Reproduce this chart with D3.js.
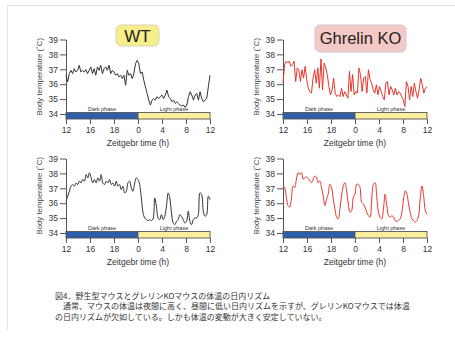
<!DOCTYPE html>
<html><head><meta charset="utf-8">
<script src="https://cdn.jsdelivr.net/npm/d3@7"></script>
<style>
body{margin:0;background:#fff;}
svg{display:block;font-family:"Liberation Sans",Arial,sans-serif;}
</style></head><body>
<svg id="c" width="455" height="340"></svg>
<script>
// ---- data ----
const hourTicks = [0, 4, 8, 12, 16, 20, 24];
const hourTickLabels = ["12", "16", "18", "0", "4", "8", "12"];
const tempTicks = [34, 35, 36, 37, 38, 39];
const phaseLabels = ["Dark phase", "Light phase"];
const groupLabels = ["WT", "Ghrelin KO"];
const xTitle = "Zeitgebr time (h)";
const yTitle = "Body temperature (˚C)";
const captionLines = [
  "図4．野生型マウスとグレリンKOマウスの体温の日内リズム",
  "　通常、マウスの体温は夜間に高く、昼間に低い日内リズムを示すが、グレリンKOマウスでは体温",
  "の日内リズムが欠如している。しかも体温の変動が大きく安定していない。"
];
// body temperature (°C), evenly spaced over 24 h (ZT12 -> ZT12)
const wtTop = [36.60,36.16,36.71,36.93,36.71,37.04,36.82,36.93,37.27,36.82,36.93,36.82,36.98,36.71,36.93,37.16,36.71,37.04,36.60,37.16,36.93,37.27,36.71,37.04,37.16,36.93,37.27,36.71,36.93,36.82,36.60,36.71,36.49,36.60,36.38,36.60,35.93,36.93,36.60,36.71,36.38,36.71,37.38,37.60,37.38,36.71,36.82,36.27,35.82,35.38,34.93,34.60,34.93,35.04,34.93,35.16,35.04,35.16,35.27,35.04,35.27,35.60,35.16,35.04,34.82,34.93,34.71,34.82,34.71,34.60,34.53,34.60,34.44,34.60,35.16,35.49,35.27,34.93,35.27,35.38,34.93,35.49,35.04,34.82,34.93,35.04,35.82,36.60];
const koTop = [36.07,37.31,37.54,37.42,37.54,37.20,37.31,37.54,36.18,37.09,36.97,36.18,36.97,36.41,37.20,36.30,35.73,35.51,35.40,36.41,36.97,36.07,37.09,35.73,37.69,35.62,37.42,37.09,36.64,35.85,35.28,35.62,36.41,35.40,35.17,35.28,35.17,35.73,35.17,35.51,35.28,35.06,36.86,35.51,36.64,35.28,35.51,35.40,37.09,36.64,35.51,36.41,36.52,35.40,36.97,36.30,36.07,35.62,35.40,35.96,35.28,35.85,35.51,35.17,34.95,36.07,36.18,35.28,35.85,35.62,35.28,35.73,35.28,35.51,35.40,35.17,34.95,34.50,36.18,35.85,34.95,35.85,35.17,36.07,35.51,35.06,35.62,36.41,35.96,35.40,35.73,35.85];
const wtBottom = [36.13,36.47,36.80,37.14,37.25,37.14,37.36,37.25,37.48,37.36,37.59,37.48,37.92,37.70,38.04,37.70,37.36,37.59,37.36,37.70,37.48,37.92,37.36,37.25,37.48,37.36,37.59,37.25,37.36,37.14,37.48,37.14,37.25,36.91,37.14,36.69,36.80,37.36,37.48,37.03,36.80,37.36,37.70,37.59,37.25,36.35,35.35,35.01,34.90,34.83,34.90,34.83,34.94,36.35,35.79,35.01,34.90,35.23,34.90,35.12,35.79,36.69,36.35,35.35,34.67,34.56,34.78,34.90,35.23,35.12,34.90,34.67,34.78,35.46,34.78,34.56,34.90,35.01,35.01,35.23,36.69,36.58,35.46,35.12,35.23,36.47,36.24];
const koBottom = [37.16,37.05,36.39,35.84,35.73,36.28,37.16,37.05,37.61,38.05,37.94,38.05,37.61,37.72,37.76,37.67,37.50,37.38,37.61,37.83,37.72,37.38,37.50,37.05,36.50,35.84,36.28,36.61,37.27,37.05,36.28,35.62,35.06,34.95,35.62,36.50,37.16,37.38,36.83,35.95,35.39,35.50,36.39,36.61,37.27,37.27,37.05,36.06,35.95,35.73,35.39,35.17,35.06,36.28,37.27,37.38,36.39,35.39,35.06,34.95,35.62,36.61,35.84,35.17,35.06,35.17,35.06,34.84,34.77,34.84,34.95,35.39,36.28,36.83,36.61,35.95,35.39,34.95,34.84,34.73,34.84,35.17,36.39,37.16,36.50,35.50,35.24];

// ---- layout ----
const svg = d3.select("#c");
const W = 144;
const panels = [
  {x0: 66,  y39: 39.5, y34: 114, data: wtTop,    color: "#333", curve: d3.curveLinear},
  {x0: 283, y39: 39.5, y34: 114, data: koTop,    color: "#e8352c", curve: d3.curveLinear},
  {x0: 66,  y39: 158.5, y34: 233, data: wtBottom, color: "#333", curve: d3.curveCatmullRom},
  {x0: 283, y39: 158.5, y34: 233, data: koBottom, color: "#e8352c", curve: d3.curveCatmullRom}
];

// frame lines
svg.append("line").attr("x1", 7).attr("x2", 455).attr("y1", 5.5).attr("y2", 5.5).attr("stroke", "#e2e2e2");
svg.append("line").attr("x1", 7.5).attr("x2", 7.5).attr("y1", 5).attr("y2", 330).attr("stroke", "#e2e2e2");

panels.forEach(p => {
  const x = d3.scaleLinear().domain([0, 24]).range([p.x0, p.x0 + W]);
  const y = d3.scaleLinear().domain([34, 39]).range([p.y34, p.y39]);
  const g = svg.append("g");

  // y axis
  const ya = g.append("g").attr("transform", `translate(${p.x0},0)`)
    .call(d3.axisLeft(y).tickValues(tempTicks).tickFormat(d3.format("d")).tickSize(6).tickSizeOuter(0).tickPadding(2));
  ya.select(".domain").attr("stroke", "#555");
  ya.selectAll(".tick line").attr("stroke", "#555");
  ya.selectAll(".tick text").attr("fill", "#333").style("font-size", "8.5px");

  // y title
  g.append("text")
    .attr("transform", `translate(${p.x0 - 27},${(p.y39 + p.y34) / 2}) rotate(-90)`)
    .attr("text-anchor", "middle").attr("dy", "0.35em")
    .attr("fill", "#444").style("font-size", "7.8px").text(yTitle);

  // data line
  const n = p.data.length;
  const line = d3.line().x((d, i) => x(i * 24 / (n - 1))).y(d => y(d)).curve(p.curve);
  g.append("path").datum(p.data).attr("d", line)
    .attr("fill", "none").attr("stroke", p.color).attr("stroke-width", 1)
    .attr("stroke-linejoin", "round");

  // phase bar
  const barTop = y(34) - 1.5, barH = 6.5;
  [[0, 12, "#2f5eaa"], [12, 24, "#fbee9e"]].forEach(([a, b, c], i) => {
    g.append("rect").attr("x", x(a)).attr("y", barTop).attr("width", x(b) - x(a)).attr("height", barH)
      .attr("fill", c).attr("stroke", "#555").attr("stroke-width", 0.9);
    g.append("text").attr("x", (x(a) + x(b)) / 2).attr("y", barTop - 2)
      .attr("text-anchor", "middle").attr("fill", "#333").style("font-size", "5.5px").text(phaseLabels[i]);
  });

  // x axis
  const xa = g.append("g").attr("transform", `translate(0,${barTop + barH})`)
    .call(d3.axisBottom(x).tickValues(hourTicks).tickFormat((d, i) => hourTickLabels[i]).tickSize(5).tickSizeOuter(0).tickPadding(3));
  xa.select(".domain").remove();
  xa.selectAll(".tick line").attr("stroke", "#555");
  xa.selectAll(".tick text").attr("fill", "#333").style("font-size", "8.5px");

  g.append("text").attr("x", x(12)).attr("y", barTop + barH + 27)
    .attr("text-anchor", "middle").attr("fill", "#333").style("font-size", "8.5px").text(xTitle);
});

// group label boxes
const boxes = [
  {x: 116, y: 25, w: 43, h: 21, fill: "#f6ee88", stroke: "#d8d4c0", fs: 17},
  {x: 315, y: 25, w: 91, h: 27, fill: "#f5c9c5", stroke: "#cfc6d8", fs: 16.5}
];
boxes.forEach((b, i) => {
  svg.append("rect").attr("x", b.x).attr("y", b.y).attr("width", b.w).attr("height", b.h)
    .attr("rx", 5).attr("fill", b.fill).attr("stroke", b.stroke).attr("stroke-width", 1);
  svg.append("text").attr("x", b.x + b.w / 2).attr("y", b.y + b.h / 2).attr("dy", "0.36em")
    .attr("text-anchor", "middle").attr("fill", "#222").style("font-size", b.fs + "px").text(groupLabels[i]);
});

// caption
const cap = svg.append("g").style("font-family", "'Noto Sans CJK JP', sans-serif").style("font-size", "8px").attr("fill", "#333");
captionLines.forEach((t, i) => {
  cap.append("text").attr("x", 55).attr("y", 298.5 + i * 10.5).attr("xml:space", "preserve").text(t);
});
</script>
</body></html>
